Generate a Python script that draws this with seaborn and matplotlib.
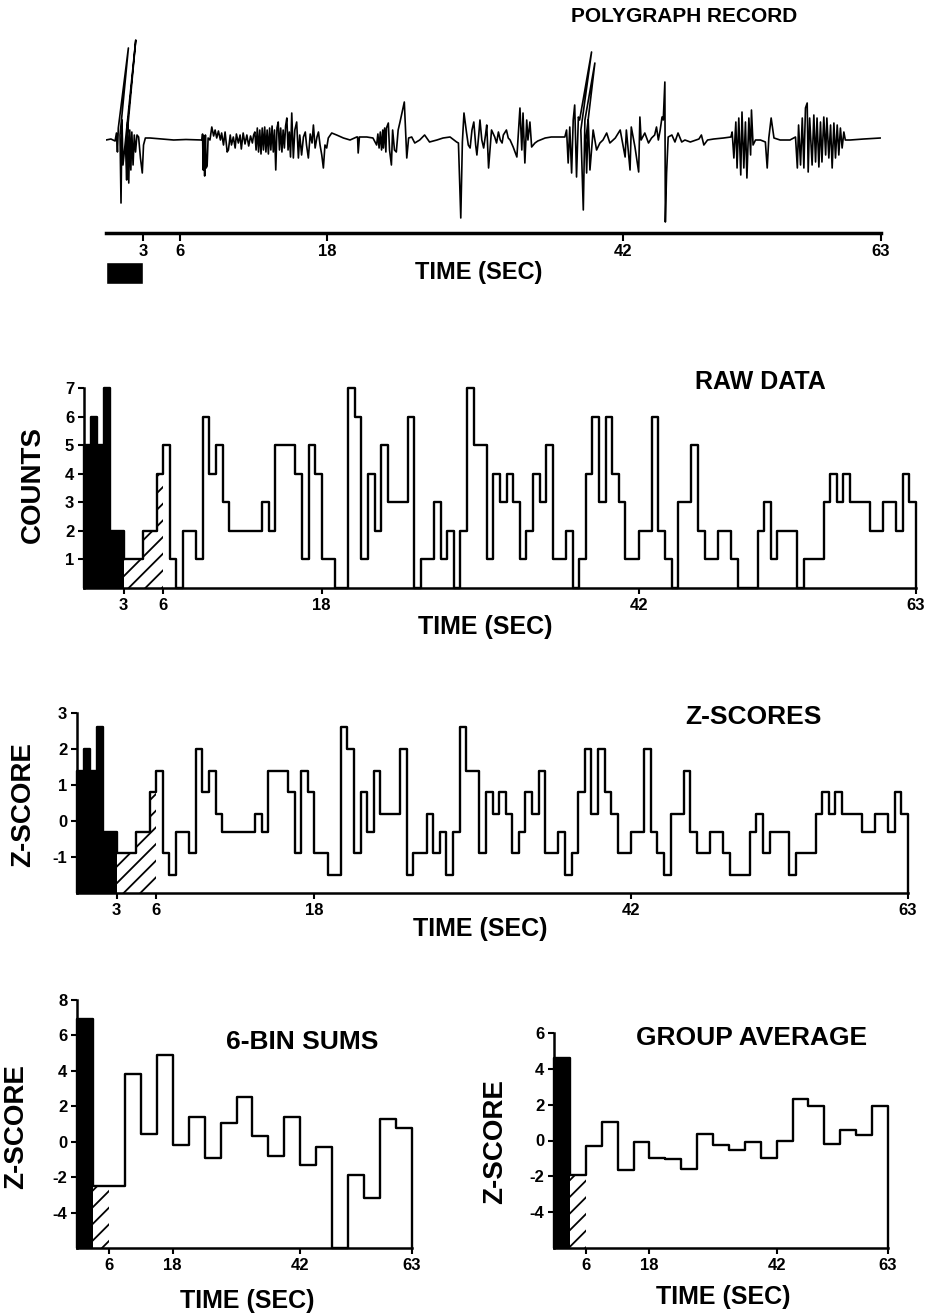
import numpy as np
import pandas as pd
import matplotlib
matplotlib.use("Agg")
import matplotlib.pyplot as plt
import seaborn as sns

# ---- values ----
bin_width = 0.5          # sec per raw bin
raw_counts = [5, 6, 5, 7, 2, 2,
              1, 1, 1, 2, 2, 4,
              5, 1, 0, 2, 2, 1, 6, 4, 5, 3, 2, 2, 2, 2, 2, 3, 2, 5, 5, 5, 4, 1, 5, 4,
              1, 1, 0, 0, 7, 6, 1, 4, 2, 5, 3, 3, 3, 6, 0, 1, 1, 3, 1, 2, 0,
              2, 7, 5, 5, 1, 4, 3, 4, 3, 1, 2, 4, 3, 5, 1, 1, 2, 0, 1, 4, 6, 3, 6, 4,
              3, 1, 1, 2, 2, 6, 2, 1, 0, 3, 3, 5, 2, 1, 1, 2, 2, 1, 0, 0, 0, 2, 3, 1,
              2, 2, 2, 0, 1, 1, 1, 3, 4, 3, 4, 3, 3, 3, 2, 2, 3, 3, 2, 4, 3]
z_scores = [1.4, 2.0, 1.4, 2.6, -0.3, -0.3,
            -0.9, -0.9, -0.9, -0.3, -0.3, 0.8,
            1.4, -0.9, -1.5, -0.3, -0.3, -0.9, 2.0, 0.8, 1.4, 0.2, -0.3, -0.3,
            -0.3, -0.3, -0.3, 0.2, -0.3, 1.4, 1.4, 1.4, 0.8, -0.9, 1.4, 0.8,
            -0.9, -0.9, -1.5, -1.5, 2.6, 2.0, -0.9, 0.8, -0.3, 1.4, 0.2, 0.2,
            0.2, 2.0, -1.5, -0.9, -0.9, 0.2, -0.9, -0.3, -1.5,
            -0.3, 2.6, 1.4, 1.4, -0.9, 0.8, 0.2, 0.8, 0.2, -0.9,
            -0.3, 0.8, 0.2, 1.4, -0.9, -0.9, -0.3, -1.5, -0.9, 0.8,
            2.0, 0.2, 2.0, 0.8, 0.2, -0.9, -0.9, -0.3, -0.3, 2.0,
            -0.3, -0.9, -1.5, 0.2, 0.2, 1.4, -0.3, -0.9, -0.9, -0.3,
            -0.3, -0.9, -1.5, -1.5, -1.5, -0.3, 0.2, -0.9, -0.3, -0.3,
            -0.3, -1.5, -0.9, -0.9, -0.9, 0.2, 0.8, 0.2, 0.8, 0.2,
            0.2, 0.2, -0.3, -0.3, 0.2, 0.2, -0.3, 0.8, 0.2]
block_width = 3.0        # 6 bins = 3 sec
six_bin_sums = [6.9, -2.5, -2.5, 3.8, 0.45, 4.9, -0.2, 1.4, -0.9, 1.05, 2.5,
                0.3, -0.8, 1.4, -1.3, -0.3, -6.0, -1.9, -3.2, 1.3, 0.8]
group_average = [4.6, -1.9, -0.3, 1.05, -1.65, -0.1, -0.95, -1.05, -1.6, 0.35, -0.25,
                 -0.55, -0.1, -1.0, -0.05, 2.3, 1.9, -0.2, 0.6, 0.3, 1.95]
time_ticks = [3, 6, 18, 42, 63]
time_ticks_sums = [6, 18, 42, 63]
stim_period = (0, 3)     # black
post_period = (3, 6)     # hatched

# polygraph pen trace: (sec, deflection)
trace_points = [
    (0.0, 0), (0.4, 1), (0.74, -1), (0.85, 7), (0.93, -12), (1.0, 12), (1.82, 92), (1.14, 5),
    (1.22, -63), (1.30, 20), (1.38, -25), (2.42, 100), (1.60, -10), (1.68, -40), (1.76, 18),
    (1.85, -43), (1.93, 10), (2.02, -30), (2.10, 8), (2.20, -25), (2.30, 5), (2.40, -12),
    (2.52, 5), (2.65, 3), (2.80, -18), (2.95, -33), (3.05, -5), (3.20, 2), (3.58, 2),
    (4.5, 1), (5.5, 0), (6.5, 0.5), (7.7, 0),
    (7.80, 0), (7.85, 6), (7.90, -30), (7.95, 4), (8.02, -36), (8.08, 5), (8.14, -28),
    (8.22, -26), (8.30, 2), (8.45, 0),
    (8.6, 13), (8.75, 4), (8.87, 10), (9.0, 2), (9.14, 9), (9.3, 0), (9.4, 7), (9.55, -5),
    (9.68, 8), (9.85, -12), (9.95, -10), (10.1, 5), (10.2, -5), (10.35, 3), (10.5, -8),
    (10.6, 6), (10.76, -3), (10.9, 5), (11.0, -9), (11.15, 7), (11.3, -4), (11.45, 5),
    (11.6, -6), (11.75, 4), (11.9, -3), (12.0, 5),
    (12.1, 8), (12.2, -10), (12.3, 12), (12.4, -12), (12.5, 10), (12.6, -14), (12.7, 12),
    (12.8, -10), (12.9, 13), (13.0, -12), (13.1, 10), (13.2, -14), (13.3, 12), (13.4, -10),
    (13.5, 14), (13.6, -12), (13.7, 10), (13.8, -30), (13.9, 12), (14.0, 18), (14.1, -10),
    (14.2, 12), (14.3, -12), (14.4, 10), (14.5, -8), (14.6, 14), (14.7, 22), (14.8, -10),
    (14.9, 8), (15.0, -17),
    (15.1, 27), (15.23, -18), (15.35, 10), (15.5, 18), (15.64, -18), (15.75, 5), (15.9, -15),
    (16.05, 3), (16.2, 8), (16.3, -5), (16.45, -18), (16.6, 6), (16.75, -3), (16.86, 15),
    (17.0, -8), (17.15, 3), (17.27, 8), (17.4, -5), (17.54, -15), (17.67, -28), (17.8, -5),
    (17.94, -8), (18.07, 2), (18.35, 7), (18.75, 5), (19.3, 2), (19.84, 0), (20.38, 3),
    (20.45, 3), (20.5, -13), (20.6, 3), (21.2, 3), (21.7, 2),
    (22.0, -5), (22.1, 6), (22.2, -8), (22.3, 8), (22.4, -10), (22.5, 10), (22.55, -8),
    (22.65, 12), (22.75, -12), (22.8, 12), (22.95, 17), (23.05, -10), (23.2, -25), (23.3, 10),
    (23.45, -10), (23.6, -12), (23.75, 10), (23.9, 18), (24.25, 38), (24.45, -18), (24.6, 2),
    (24.85, 3), (25.1, -3), (25.5, 0), (25.9, 5), (26.3, -2), (26.9, 0), (27.4, 2), (27.97, 3),
    (28.5, -2), (28.65, -3), (28.84, -78), (28.97, -2), (29.1, 27), (29.3, 8), (29.45, -5),
    (29.6, -8), (29.75, 10), (29.9, 18), (30.05, -5), (30.15, -15), (30.3, 5), (30.4, 20),
    (30.55, 0), (30.7, -8), (30.85, 5), (30.95, 15), (31.1, -28),
    (31.34, 10), (31.6, 3), (31.75, -3), (31.9, 8), (32.05, 0), (32.2, -3), (32.3, 5),
    (32.55, 10), (32.7, 2), (32.85, 0), (33.1, -7), (33.4, -17), (33.5, 3), (33.65, 32),
    (33.8, -10), (33.9, 27), (34.05, -23), (34.2, 20), (34.3, 0), (34.46, 18), (34.6, -7),
    (34.87, -3), (35.1, -1), (35.7, 2), (36.2, 3), (36.8, 3), (37.3, 3), (37.44, 10),
    (37.57, -23), (37.7, 13), (37.85, -33), (37.98, 20), (38.1, 35), (38.25, -37), (38.4, 23),
    (38.5, 20), (39.47, 88), (38.6, 10), (38.8, -70), (38.93, 20), (39.74, 77), (39.0, 0),
    (39.07, -33), (39.2, 20), (39.34, -30), (39.6, 10), (39.88, -10), (40.15, -3), (40.4, 0),
    (40.7, 7), (40.96, -3), (41.4, 2), (41.8, 10), (42.05, -7), (42.2, -17), (42.3, 10),
    (42.6, -30), (42.7, 13), (43.0, -7), (43.3, -32), (43.4, 23), (43.5, 0), (43.8, 7),
    (44.1, -3), (44.35, 2), (44.6, 5), (44.75, 13), (44.9, 0), (45.05, 10), (45.2, 23),
    (45.3, 20), (45.43, 58), (45.47, -82), (45.57, -33), (45.7, 3), (46.0, 5), (46.25, -2),
    (46.5, 7), (46.8, -2), (47.06, 0),
    (47.5, -2), (48.2, 1), (48.4, 5), (48.6, -5), (48.9, 0), (49.4, 1), (50.2, 2), (50.8, 3),
    (50.9, 8), (51.04, -18), (51.2, 18), (51.3, -28), (51.44, 22), (51.6, -35), (51.7, 28),
    (51.85, -28), (51.98, 18), (52.1, -38), (52.26, 22), (52.4, -15), (52.47, 30), (52.6, -5),
    (52.8, 0), (53.2, 0), (53.6, -2), (53.75, -28), (53.88, 2), (54.07, 22), (54.3, 2),
    (54.8, 0), (55.6, 0), (56.05, 3), (56.2, -28), (56.3, 15), (56.46, -25), (56.6, 22),
    (56.73, -28), (56.86, 32), (57.0, 37), (57.08, -32), (57.2, 22), (57.4, -25), (57.54, 25),
    (57.68, -22), (57.8, 22), (57.95, -27), (58.08, 18), (58.2, -22), (58.35, 23), (58.5, -15),
    (58.6, 22), (58.76, -18), (58.9, 15), (59.03, -28), (59.17, 17), (59.3, -18), (59.44, 15),
    (59.57, -15), (59.7, 12), (59.84, -8), (59.98, 8), (60.1, 0), (60.5, 0), (61.6, 1),
    (62.96, 2),
]

# ---- style ----
sns.set_theme(style="ticks")
plt.rcParams["font.family"] = ["Liberation Sans", "DejaVu Sans"]
plt.rcParams["font.weight"] = "bold"
plt.rcParams["axes.unicode_minus"] = False
plt.rcParams["hatch.linewidth"] = 1.3

W, H = 927, 1315
fig = plt.figure(figsize=(W / 100, H / 100), dpi=100)


def box(left, top, right, bottom):
    # pixel box -> figure fraction rect
    return [left / W, 1 - bottom / H, (right - left) / W, (bottom - top) / H]


def label(x, y, s, size, rot=0):
    fig.text(x / W, 1 - y / H, s, ha="center", va="center", fontsize=size,
             fontweight="bold", rotation=rot, color="black")


def style_axis(ax, xticks, yticks, lw=1.8):
    sns.despine(ax=ax)
    for side in ["left", "bottom"]:
        ax.spines[side].set_linewidth(lw)
        ax.spines[side].set_color("black")
    ax.set_xticks(xticks)
    ax.set_xticklabels([str(t) for t in xticks])
    ax.set_yticks(yticks)
    ax.set_yticklabels([str(t) for t in yticks])
    ax.tick_params(axis="both", colors="black", width=1.5, length=4, pad=3,
                   labelsize=12)
    for t in ax.get_xticklabels() + ax.get_yticklabels():
        t.set_fontweight("bold")
    ax.set_xlabel("")
    ax.set_ylabel("")
    ax.set_facecolor("white")


def step_panel(ax, values, width, bottom, n_black, n_hatch):
    vals = list(values)
    edges = np.arange(len(vals) + 1) * width
    blk = vals[:n_black]
    ax.fill_between(edges[:n_black + 1], bottom, blk + [blk[-1]], step="post",
                    color="black", lw=0)
    hat = vals[n_black:n_black + n_hatch]
    ax.fill_between(edges[n_black:n_black + n_hatch + 1], bottom, hat + [hat[-1]],
                    step="post", facecolor="white", edgecolor="black", hatch="//", lw=0)
    outline = pd.DataFrame({
        "t": [edges[0]] + list(edges) + [edges[-1]],
        "v": [bottom] + vals + [vals[-1], bottom],
    })
    sns.lineplot(data=outline, x="t", y="v", ax=ax, sort=False, estimator=None,
                 color="black", lw=1.7, drawstyle="steps-post", clip_on=False)


n_stim = int((stim_period[1] - stim_period[0]) / bin_width)
n_post = int((post_period[1] - post_period[0]) / bin_width)

# ---- polygraph record ----
ax0 = fig.add_axes(box(106, 20, 881, 233))
trace = pd.DataFrame(trace_points, columns=["t", "a"])
sns.lineplot(data=trace, x="t", y="a", ax=ax0, sort=False, estimator=None,
             color="black", lw=1.2)
ax0.bar(stim_period[0], -22, width=stim_period[1] - stim_period[0], bottom=-122,
        align="edge", color="black", clip_on=False)
ax0.set_xlim(0, 63)
ax0.set_ylim(-93, 120)
style_axis(ax0, time_ticks, [], lw=2.5)
ax0.spines["left"].set_visible(False)
ax0.tick_params(axis="x", length=6, pad=2)
label(684, 17, "POLYGRAPH RECORD", 15)
label(479, 272, "TIME (SEC)", 17)

# ---- raw data ----
ax1 = fig.add_axes(box(84, 388, 916, 588))
step_panel(ax1, raw_counts, bin_width, 0, n_stim, n_post)
ax1.set_xlim(0, 63)
ax1.set_ylim(0, 7)
style_axis(ax1, time_ticks, list(range(1, 8)))
label(760, 382, "RAW DATA", 18)
label(485, 627, "TIME (SEC)", 18)
label(33, 485, "COUNTS", 20, rot=90)

# ---- z-scores ----
ax2 = fig.add_axes(box(77, 713, 908, 893))
step_panel(ax2, z_scores, bin_width, -2, n_stim, n_post)
ax2.set_xlim(0, 63)
ax2.set_ylim(-2, 3)
style_axis(ax2, time_ticks, [-1, 0, 1, 2, 3])
label(753, 717, "Z-SCORES", 19)
label(480, 929, "TIME (SEC)", 18)
label(23, 805, "Z-SCORE", 20, rot=90)

# ---- 6-bin sums ----
ax3 = fig.add_axes(box(77, 1000, 412, 1248))
step_panel(ax3, six_bin_sums, block_width, -6, 1, 1)
ax3.set_xlim(0, 63)
ax3.set_ylim(-6, 8)
style_axis(ax3, time_ticks_sums, [-4, -2, 0, 2, 4, 6, 8])
label(302, 1042, "6-BIN SUMS", 19)
label(247, 1301, "TIME (SEC)", 18)
label(16, 1127, "Z-SCORE", 20, rot=90)

# ---- group average ----
ax4 = fig.add_axes(box(554, 1033, 888, 1248))
step_panel(ax4, group_average, block_width, -6, 1, 1)
ax4.set_xlim(0, 63)
ax4.set_ylim(-6, 6)
style_axis(ax4, time_ticks_sums, [-4, -2, 0, 2, 4, 6])
label(752, 1038, "GROUP AVERAGE", 19)
label(723, 1297, "TIME (SEC)", 18)
label(495, 1142, "Z-SCORE", 20, rot=90)

fig.savefig("out.png", dpi=100, facecolor="white")
